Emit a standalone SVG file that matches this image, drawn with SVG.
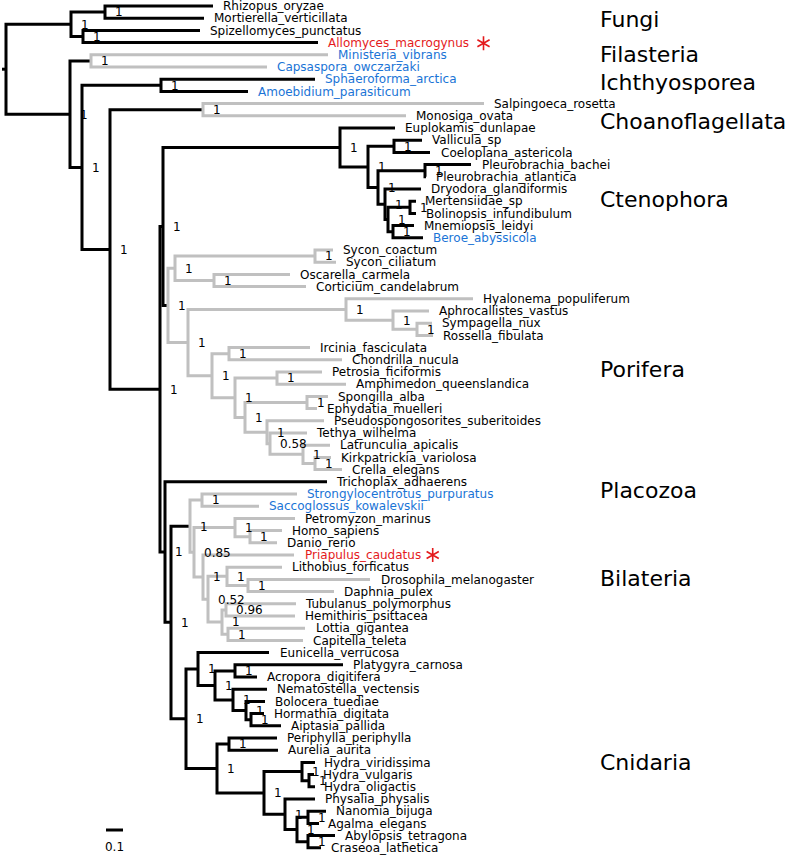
<svg xmlns="http://www.w3.org/2000/svg" width="791" height="857" viewBox="0 0 791 857">
<style>
.k{stroke:#000;stroke-width:3;fill:none}
.g{stroke:#c0c0c0;stroke-width:3;fill:none}
text{font-family:"DejaVu Sans","Liberation Sans",sans-serif;font-size:12px;fill:#000}
.b{fill:#1a74d6}
.r{fill:#e41a1c}
.c{font-size:22px}
.ast{stroke:#e41a1c;stroke-width:1.6;fill:none}
</style>
<rect width="791" height="857" fill="#fff"/>
<g id="connectors">
<path class="k" d="M2 69.2H6"/>
<path class="k" d="M71 24.3H6V114.15H70"/>
<path class="k" d="M105 12.1H71V36.5H83"/>
<path class="k" d="M213 6H105V18.2H204"/>
<path class="k" d="M200 30.4H83V42.6H318"/>
<path class="k" d="M91 60.9H70V167.4H82"/>
<path class="g" d="M328 54.8H91V67H267"/>
<path class="k" d="M161 85.3H82V249.45H110"/>
<path class="k" d="M315 79.2H161V91.4H248"/>
<path class="k" d="M203 109.7H110V389.2H160"/>
<path class="g" d="M484 103.6H203V115.8H406"/>
<path class="k" d="M163 226.45H160V552H165"/>
<path class="k" d="M340 147.45H163V305.45H168"/>
<path class="k" d="M395 128H340V166.9H368"/>
<path class="k" d="M394 146.3H368V187.5H378"/>
<path class="k" d="M422 140.2H394V152.4H430"/>
<path class="k" d="M425 170.7H378V204.25H385"/>
<path class="k" d="M471 164.6H425V176.8H426"/>
<path class="k" d="M421 189H385V219.5H388"/>
<path class="k" d="M410 207.3H388V231.7H393"/>
<path class="k" d="M416 201.2H410V213.4H416"/>
<path class="k" d="M414 225.6H393V237.8H423"/>
<path class="g" d="M175 268.3H168V342.6H188"/>
<path class="g" d="M315 256.1H175V280.5H214"/>
<path class="g" d="M333 250H315V262.2H336"/>
<path class="g" d="M290 274.4H214V286.6H306"/>
<path class="g" d="M346 309.5H188V375.7H212"/>
<path class="g" d="M473 298.8H346V320.15H393"/>
<path class="g" d="M429 311H393V329.3H417"/>
<path class="g" d="M432 323.2H417V335.4H433"/>
<path class="g" d="M229 353.7H212V397.75H235"/>
<path class="g" d="M310 347.6H229V359.8H342"/>
<path class="g" d="M277 378.1H235V417.4H245"/>
<path class="g" d="M322 372H277V384.2H346"/>
<path class="g" d="M307 402.5H245V432.25H267"/>
<path class="g" d="M328 396.4H307V408.6H317"/>
<path class="g" d="M324 420.8H267V443.7H270"/>
<path class="g" d="M307 433H270V454.35H303"/>
<path class="g" d="M330 445.2H303V463.5H315"/>
<path class="g" d="M331 457.4H315V469.6H342"/>
<path class="k" d="M327 481.8H165V622.2H171"/>
<path class="k" d="M190 526.2H171V718.75H186"/>
<path class="g" d="M202 500.1H190V552.3H194"/>
<path class="g" d="M297 494H202V506.2H259"/>
<path class="g" d="M235 527.55H194V577H203"/>
<path class="g" d="M295 518.4H235V536.7H250"/>
<path class="g" d="M282 530.6H250V542.8H277"/>
<path class="g" d="M294 555H203V599.2H208"/>
<path class="g" d="M227 576.35H208V622.1H222"/>
<path class="g" d="M282 567.2H227V585.5H248"/>
<path class="g" d="M370 579.4H248V591.6H334"/>
<path class="g" d="M226 609.9H222V634.3H228"/>
<path class="g" d="M296 603.8H226V616H295"/>
<path class="g" d="M305 628.2H228V640.4H303"/>
<path class="k" d="M198 669H186V768.5H217"/>
<path class="k" d="M269 652.6H198V685.4H215"/>
<path class="k" d="M235 670.9H215V699.9H233"/>
<path class="k" d="M343 664.8H235V677H257"/>
<path class="k" d="M267 689.2H233V710.55H246"/>
<path class="k" d="M265 701.4H246V719.7H251"/>
<path class="k" d="M264 713.6H251V725.8H281"/>
<path class="k" d="M229 744.1H217V792.9H264"/>
<path class="k" d="M277 738H229V750.2H278"/>
<path class="k" d="M302 771.55H264V814.25H285"/>
<path class="k" d="M315 762.4H302V780.7H309"/>
<path class="k" d="M314 774.6H309V786.8H315"/>
<path class="k" d="M315 799H285V829.5H297"/>
<path class="k" d="M308 817.3H297V841.7H308"/>
<path class="k" d="M326 811.2H308V823.4H319"/>
<path class="k" d="M335 835.6H308V847.8H321"/>
</g>
<g id="support-values">
<text x="81" y="28.6">1</text><text x="115" y="16.4">1</text><text x="93" y="40.8">1</text>
<text x="80" y="118.5">1</text><text x="101" y="65.2">1</text><text x="92" y="171.7">1</text>
<text x="171" y="89.6">1</text><text x="120" y="253.8">1</text><text x="213" y="114">1</text>
<text x="170" y="393.5">1</text><text x="173" y="230.8">1</text>
<text x="350" y="151.8">1</text><text x="378" y="171.2">1</text><text x="404" y="150.6">1</text>
<text x="388" y="191.8">1</text><text x="435" y="175">1</text><text x="395" y="208.5">1</text>
<text x="398" y="223.8">1</text><text x="420" y="211.6">1</text><text x="403" y="236">1</text>
<text x="178" y="309.8">1</text><text x="185" y="272.6">1</text><text x="325" y="260.4">1</text>
<text x="224" y="284.8">1</text><text x="198" y="346.9">1</text><text x="356" y="313.8">1</text>
<text x="403" y="324.5">1</text><text x="427" y="333.6">1</text><text x="222" y="380">1</text>
<text x="239" y="358">1</text><text x="245" y="402">1</text><text x="287" y="382.4">1</text>
<text x="255" y="421.7">1</text><text x="317" y="406.8">1</text><text x="277" y="436.5">1</text>
<text x="280" y="448">0.58</text><text x="313" y="458.6">1</text><text x="325" y="467.8">1</text>
<text x="175" y="556.3">1</text><text x="181" y="626.5">1</text><text x="200" y="530.5">1</text>
<text x="212" y="504.4">1</text><text x="204" y="556.6">0.85</text><text x="245" y="531.9">1</text>
<text x="260" y="541">1</text><text x="213" y="581.3">1</text><text x="218" y="603.5">0.52</text>
<text x="237" y="580.7">1</text><text x="258" y="589.8">1</text><text x="232" y="626.4">1</text>
<text x="236" y="614.2">0.96</text><text x="238" y="638.6">1</text>
<text x="196" y="723">1</text><text x="208" y="673.3">1</text><text x="225" y="689.7">1</text>
<text x="245" y="675.2">1</text><text x="243" y="704.2">1</text><text x="256" y="714.9">1</text>
<text x="261" y="724">1</text><text x="227" y="772.8">1</text><text x="239" y="748.4">1</text>
<text x="274" y="797.2">1</text><text x="312" y="775.9">1</text><text x="319" y="785">1</text>
<text x="295" y="818.5">1</text><text x="307" y="833.8">1</text><text x="318" y="821.6">1</text>
<text x="318" y="846">1</text>
</g>
<g id="leaves">
<g id="n1"><text x="223" y="10.2">Rhizopus_oryzae</text></g>
<g id="n2"><text x="214" y="22.4">Mortierella_verticillata</text></g>
<g id="n3"><text x="210" y="34.6">Spizellomyces_punctatus</text></g>
<g id="n4"><text class="r" x="328" y="46.8">Allomyces_macrogynus</text><path class="ast" d="M483.5 36.3V50.3M477.4 39.8L489.6 46.8M477.4 46.8L489.6 39.8"/></g>
<g id="n5"><text class="b" x="338" y="59">Ministeria_vibrans</text></g>
<g id="n6"><text class="b" x="277" y="71.2">Capsaspora_owczarzaki</text></g>
<g id="n7"><text class="b" x="325" y="83.4">Sphaeroforma_arctica</text></g>
<g id="n8"><text class="b" x="258" y="95.6">Amoebidium_parasiticum</text></g>
<g id="n9"><text x="494" y="107.8">Salpingoeca_rosetta</text></g>
<g id="n10"><text x="416" y="120">Monosiga_ovata</text></g>
<g id="n11"><text x="405" y="132.2">Euplokamis_dunlapae</text></g>
<g id="n12"><text x="432" y="144.4">Vallicula_sp</text></g>
<g id="n13"><text x="441" y="156.6">Coeloplana_astericola</text></g>
<g id="n14"><text x="482" y="168.8">Pleurobrachia_bachei</text></g>
<g id="n15"><text x="436" y="181">Pleurobrachia_atlantica</text></g>
<g id="n16"><text x="431" y="193.2">Dryodora_glandiformis</text></g>
<g id="n17"><text x="425" y="205.4">Mertensiidae_sp</text></g>
<g id="n18"><text x="426" y="217.6">Bolinopsis_infundibulum</text></g>
<g id="n19"><text x="424" y="229.8">Mnemiopsis_leidyi</text></g>
<g id="n20"><text class="b" x="433" y="242">Beroe_abyssicola</text></g>
<g id="n21"><text x="343" y="254.2">Sycon_coactum</text></g>
<g id="n22"><text x="346" y="266.4">Sycon_ciliatum</text></g>
<g id="n23"><text x="300" y="278.6">Oscarella_carmela</text></g>
<g id="n24"><text x="316" y="290.8">Corticium_candelabrum</text></g>
<g id="n25"><text x="483" y="303">Hyalonema_populiferum</text></g>
<g id="n26"><text x="439" y="315.2">Aphrocallistes_vastus</text></g>
<g id="n27"><text x="442" y="327.4">Sympagella_nux</text></g>
<g id="n28"><text x="443" y="339.6">Rossella_fibulata</text></g>
<g id="n29"><text x="320" y="351.8">Ircinia_fasciculata</text></g>
<g id="n30"><text x="352" y="364">Chondrilla_nucula</text></g>
<g id="n31"><text x="332" y="376.2">Petrosia_ficiformis</text></g>
<g id="n32"><text x="356" y="388.4">Amphimedon_queenslandica</text></g>
<g id="n33"><text x="338" y="400.6">Spongilla_alba</text></g>
<g id="n34"><text x="327" y="412.8">Ephydatia_muelleri</text></g>
<g id="n35"><text x="334" y="425">Pseudospongosorites_suberitoides</text></g>
<g id="n36"><text x="317" y="437.2">Tethya_wilhelma</text></g>
<g id="n37"><text x="340" y="449.4">Latrunculia_apicalis</text></g>
<g id="n38"><text x="341" y="461.6">Kirkpatrickia_variolosa</text></g>
<g id="n39"><text x="352" y="473.8">Crella_elegans</text></g>
<g id="n40"><text x="337" y="486">Trichoplax_adhaerens</text></g>
<g id="n41"><text class="b" x="307" y="498.2">Strongylocentrotus_purpuratus</text></g>
<g id="n42"><text class="b" x="269" y="510.4">Saccoglossus_kowalevskii</text></g>
<g id="n43"><text x="305" y="522.6">Petromyzon_marinus</text></g>
<g id="n44"><text x="292" y="534.8">Homo_sapiens</text></g>
<g id="n45"><text x="287" y="547">Danio_rerio</text></g>
<g id="n46"><text class="r" x="305" y="559.2">Priapulus_caudatus</text><path class="ast" d="M432.7 548V562M426.6 551.5L438.8 558.5M426.6 558.5L438.8 551.5"/></g>
<g id="n47"><text x="292" y="571.4">Lithobius_forficatus</text></g>
<g id="n48"><text x="381" y="583.6">Drosophila_melanogaster</text></g>
<g id="n49"><text x="344" y="595.8">Daphnia_pulex</text></g>
<g id="n50"><text x="306" y="608">Tubulanus_polymorphus</text></g>
<g id="n51"><text x="305" y="620.2">Hemithiris_psittacea</text></g>
<g id="n52"><text x="316" y="632.4">Lottia_gigantea</text></g>
<g id="n53"><text x="313" y="644.6">Capitella_teleta</text></g>
<g id="n54"><text x="280" y="656.8">Eunicella_verrucosa</text></g>
<g id="n55"><text x="353" y="669">Platygyra_carnosa</text></g>
<g id="n56"><text x="267" y="681.2">Acropora_digitifera</text></g>
<g id="n57"><text x="277" y="693.4">Nematostella_vectensis</text></g>
<g id="n58"><text x="275" y="705.6">Bolocera_tuediae</text></g>
<g id="n59"><text x="274" y="717.8">Hormathia_digitata</text></g>
<g id="n60"><text x="291" y="730">Aiptasia_pallida</text></g>
<g id="n61"><text x="287" y="742.2">Periphylla_periphylla</text></g>
<g id="n62"><text x="288" y="754.4">Aurelia_aurita</text></g>
<g id="n63"><text x="324" y="766.6">Hydra_viridissima</text></g>
<g id="n64"><text x="323" y="778.8">Hydra_vulgaris</text></g>
<g id="n65"><text x="324" y="791">Hydra_oligactis</text></g>
<g id="n66"><text x="325" y="803.2">Physalia_physalis</text></g>
<g id="n67"><text x="336" y="815.4">Nanomia_bijuga</text></g>
<g id="n68"><text x="328" y="827.6">Agalma_elegans</text></g>
<g id="n69"><text x="345" y="839.8">Abylopsis_tetragona</text></g>
<g id="n70"><text x="331" y="852">Craseoa_lathetica</text></g>
</g>
<g id="clades">
<text class="c" x="600" y="27">Fungi</text>
<text class="c" x="600" y="62">Filasteria</text>
<text class="c" x="600" y="90">Ichthyosporea</text>
<text class="c" x="600" y="129">Choanoflagellata</text>
<text class="c" x="600" y="207">Ctenophora</text>
<text class="c" x="600" y="377">Porifera</text>
<text class="c" x="600" y="498">Placozoa</text>
<text class="c" x="600" y="586">Bilateria</text>
<text class="c" x="600" y="770">Cnidaria</text>
</g>
<g id="scale-bar">
<path class="k" d="M106 830H123"/>
<text x="114.5" y="851" text-anchor="middle">0.1</text>
</g>
</svg>
